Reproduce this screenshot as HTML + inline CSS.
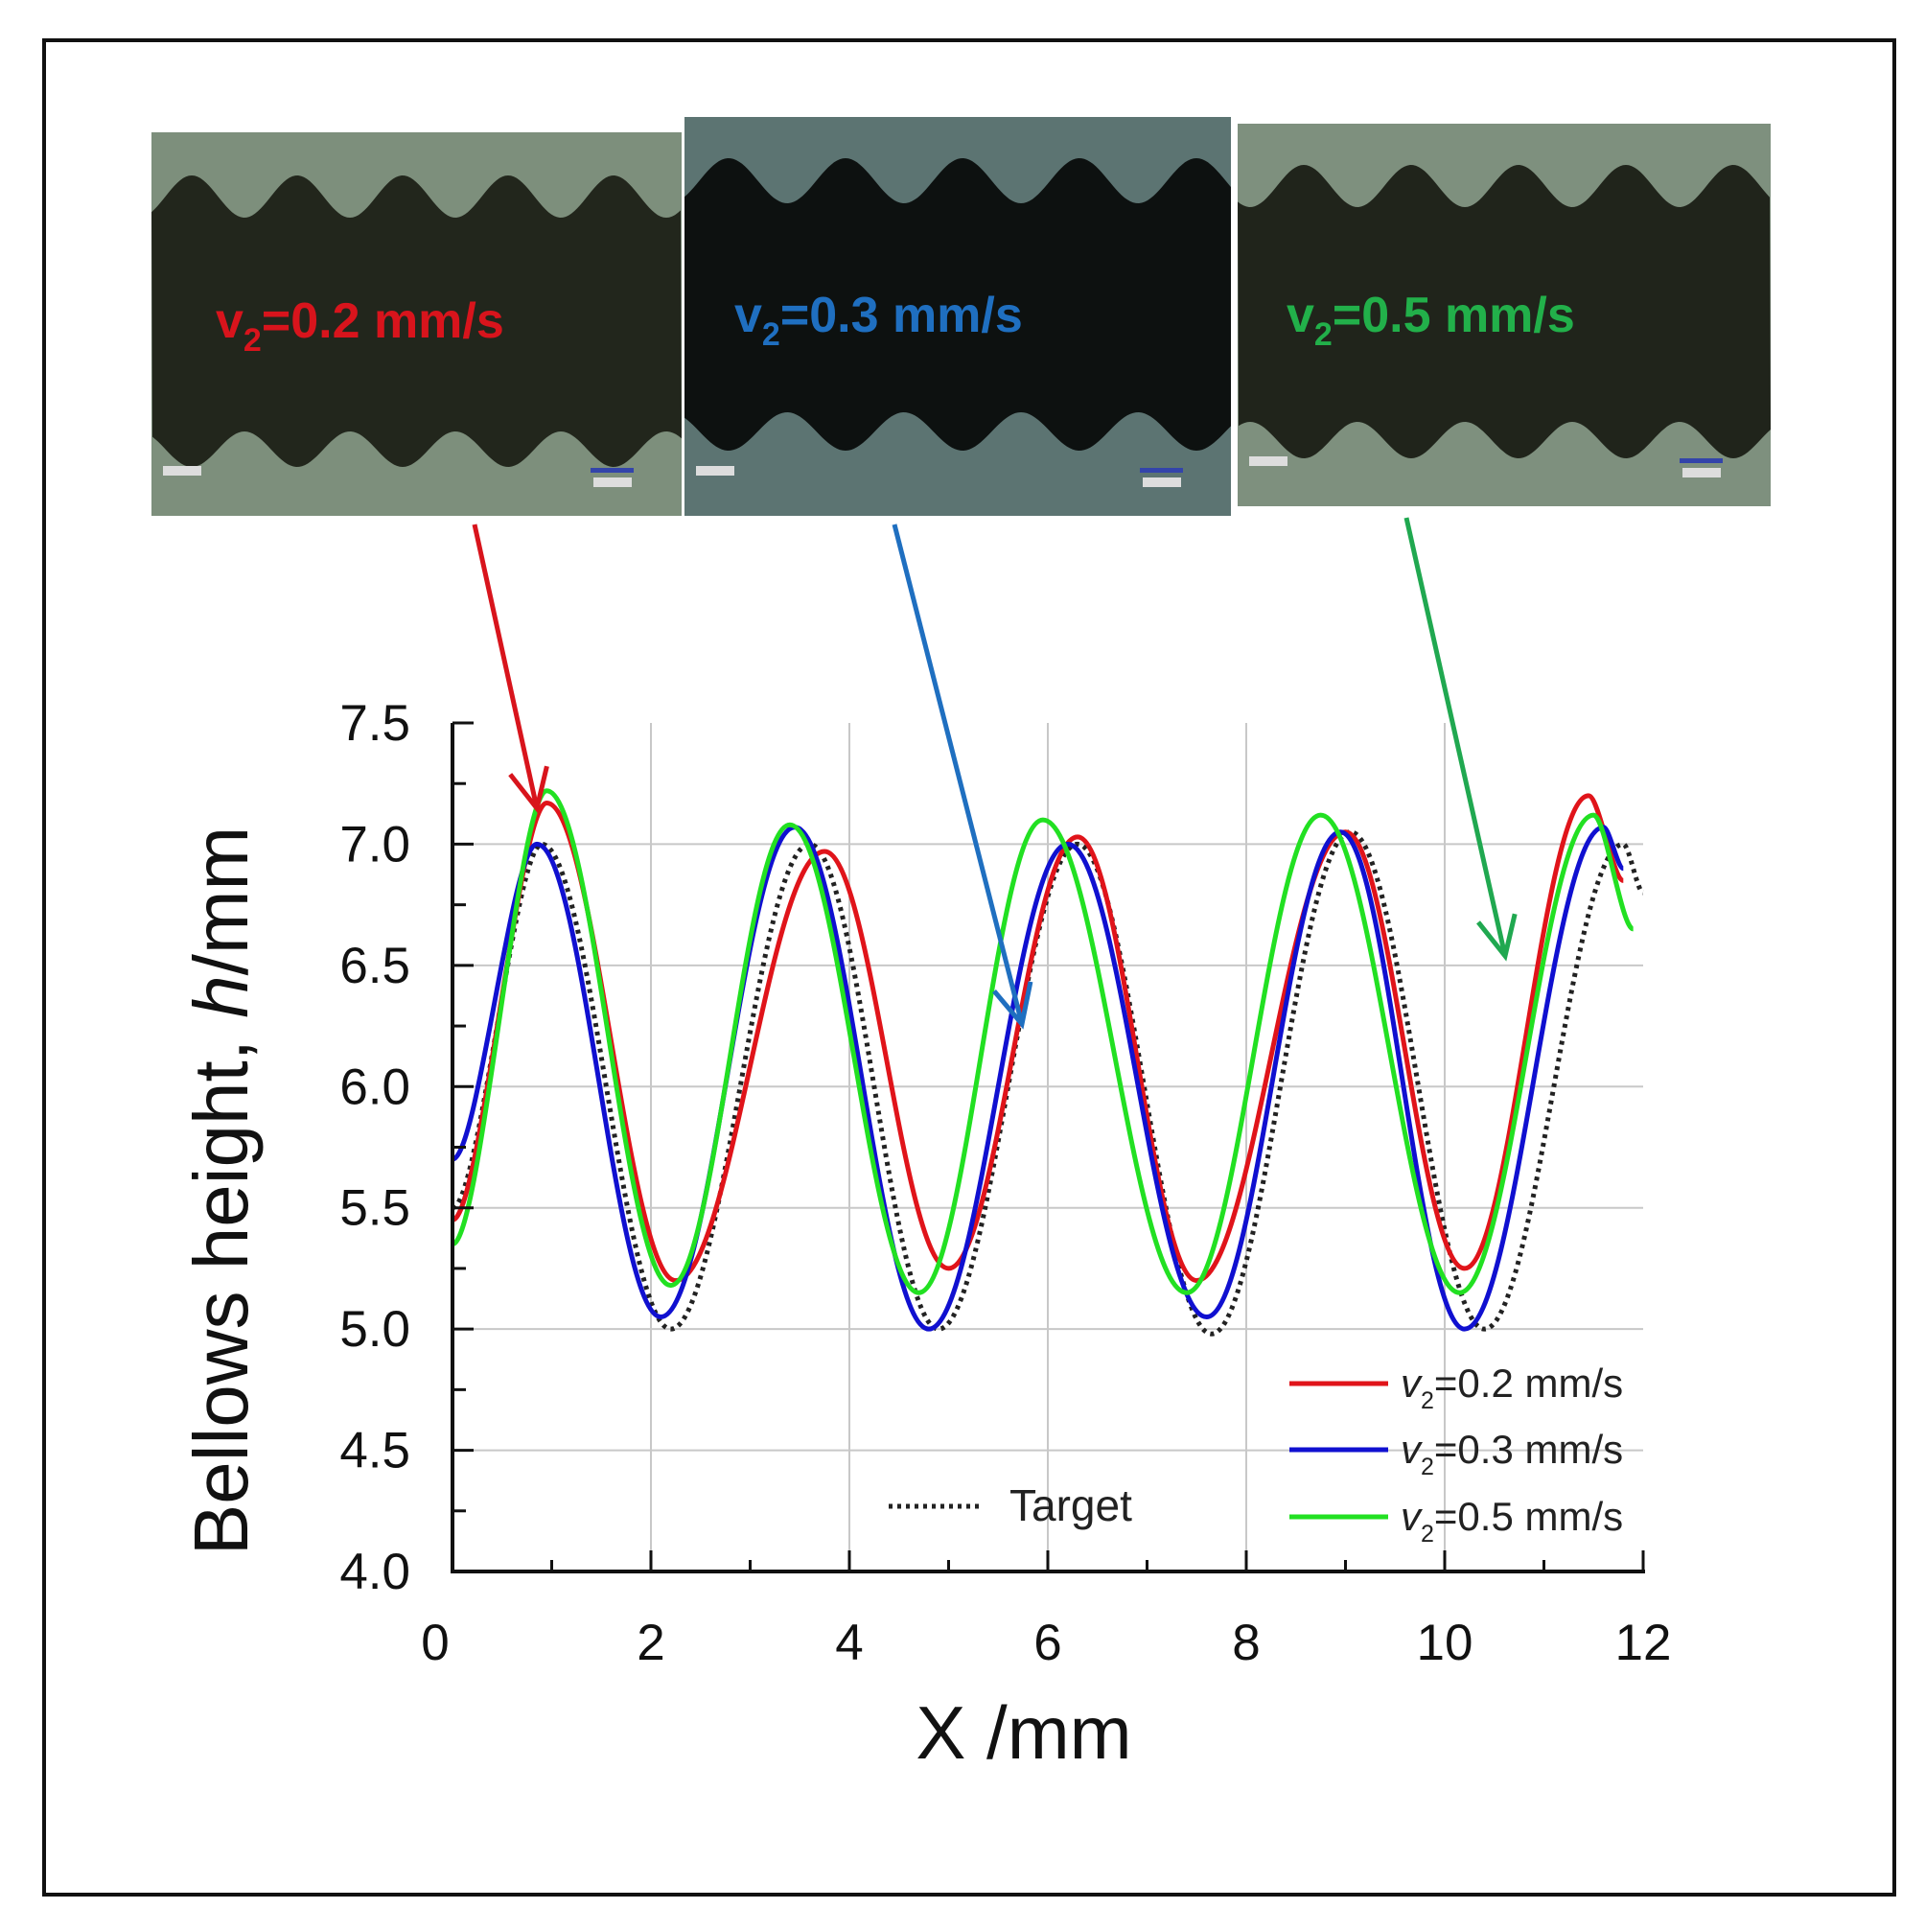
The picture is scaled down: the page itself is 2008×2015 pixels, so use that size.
<!DOCTYPE html>
<html><head><meta charset="utf-8"><style>
html,body{margin:0;padding:0;background:#fff;}
body{width:2008px;height:2015px;position:relative;overflow:hidden;font-family:"Liberation Sans",sans-serif;}
svg{position:absolute;left:0;top:0;}
</style></head><body>
<svg id="fig" width="2008" height="2015" viewBox="0 0 2008 2015" xmlns="http://www.w3.org/2000/svg">
<rect x="46" y="42" width="1930" height="1934" fill="#fff" stroke="#111" stroke-width="4"/>
<g id="photos"></g>
<g id="grid"></g>
<g id="series"></g>
<g id="axes"></g>
<g id="arrows"></g>
<text x="0" y="0" transform="translate(258,1242) rotate(-90)" text-anchor="middle" font-size="80" fill="#111">Bellows height, <tspan font-style="italic">h</tspan>/mm</text>
<text x="1068" y="1834" text-anchor="middle" font-size="78" fill="#111">X /mm</text>
<g id="legend"></g>
</svg>
<script>
// ---- data ----
const seriesNames = ["v2=0.2 mm/s","v2=0.3 mm/s","v2=0.5 mm/s","Target"];
const redX = [0,0.95,2.25,3.75,5.0,6.3,7.5,9.0,10.2,11.45,11.8];
const redY = [5.45,7.17,5.2,6.97,5.25,7.03,5.2,7.05,5.25,7.2,6.85];
const blueX = [0,0.85,2.1,3.45,4.8,6.2,7.6,8.95,10.2,11.6,11.8];
const blueY = [5.7,7.0,5.05,7.07,5.0,7.0,5.05,7.05,5.0,7.07,6.9];
const greenX = [0,0.95,2.2,3.4,4.7,5.95,7.4,8.75,10.15,11.5,11.9];
const greenY = [5.35,7.22,5.18,7.08,5.15,7.1,5.15,7.12,5.15,7.12,6.65];
const targetX = [0,0.9,2.2,3.6,4.9,6.3,7.65,9.05,10.4,11.8,12.0];
const targetY = [5.5,7.0,5.0,7.0,5.0,7.0,4.98,7.05,5.0,7.0,6.8];
const xTicks = [0,2,4,6,8,10,12];
const yTicks = [4.0,4.5,5.0,5.5,6.0,6.5,7.0,7.5];

const NS="http://www.w3.org/2000/svg";
const X0=472,X1=1714,Y0=1639,Y1=754;
const sx=v=>X0+(v-0)/(12-0)*(X1-X0);
const sy=v=>Y0-(v-4)/(7.5-4)*(Y0-Y1);
function mk(tag,attrs,parent){const e=document.createElementNS(NS,tag);for(const k in attrs)e.setAttribute(k,attrs[k]);parent.appendChild(e);return e;}

// photos
const photos=document.getElementById('photos');
const pdefs=[
 {x:158,y:138,w:553,h:400,bg:"#7d8f7c",body:"#22261c",label:"0.2",col:"#d8141c",tx:225,ty:352,top:183,topv:227,bot:487,botv:450,ph:200,per:110},
 {x:714,y:122,w:570,h:416,bg:"#5c7472",body:"#0d1110",label:"0.3",col:"#1f6fc0",tx:766,ty:346,top:165,topv:212,bot:470,botv:430,ph:760,per:122},
 {x:1291,y:129,w:556,h:399,bg:"#7e907e",body:"#20241b",label:"0.5",col:"#22b04a",tx:1342,ty:346,top:172,topv:216,bot:478,botv:440,ph:1360,per:112}
];
pdefs.forEach((p,i)=>{
 const g=mk('g',{},photos);
 
 
 mk('rect',{x:p.x,y:p.y,width:p.w,height:p.h,fill:p.bg},g);
 const pts=[];
 for(let xx=p.x;xx<=p.x+p.w;xx+=3){const c=Math.cos(2*Math.PI*(xx-p.ph)/p.per);pts.push([xx,(p.top+p.topv)/2-c*(p.topv-p.top)/2]);}
 let d='M'+pts.map(q=>q[0]+' '+q[1].toFixed(1)).join(' L');
 const pb=[];
 for(let xx=p.x+p.w;xx>=p.x;xx-=3){const c=Math.cos(2*Math.PI*(xx-p.ph)/p.per);pb.push([xx,(p.bot+p.botv)/2+c*(p.bot-p.botv)/2]);}
 d+=' L'+pb.map(q=>q[0]+' '+q[1].toFixed(1)).join(' L')+' Z';
 mk('path',{d:d,fill:p.body},g);
 mk('rect',{x:p.x+12,y:p.y+p.h-52,width:40,height:10,fill:"#ddd"},g);
 mk('rect',{x:p.x+p.w-95,y:p.y+p.h-50,width:45,height:5,fill:"#3344aa"},g);
 mk('rect',{x:p.x+p.w-92,y:p.y+p.h-40,width:40,height:10,fill:"#ddd"},g);
 const t=mk('text',{x:p.tx,y:p.ty,'font-size':52,'font-weight':'bold',fill:p.col},g);
 
 
 t.innerHTML='v<tspan font-size="34" dy="14">2</tspan><tspan dy="-14">=0.'+p.label.slice(2)+' mm/s</tspan>';
});

// grid
const grid=document.getElementById('grid');
yTicks.forEach(v=>{ if(v>4&&v<7.5){const l=mk('line',{x1:X0,x2:X1,y1:sy(v),y2:sy(v),stroke:"#c8c8c8","stroke-width":2},grid);}});
xTicks.forEach(v=>{ if(v>0&&v<12){const l=mk('line',{x1:sx(v),x2:sx(v),y1:Y1,y2:Y0,stroke:"#c8c8c8","stroke-width":2},grid);}});

// series
const ser=document.getElementById('series');
function pathOf(xs,ys){let d='M'+sx(xs[0])+' '+sy(ys[0]);for(let i=1;i<xs.length;i++){const a=sx(xs[i-1]),b=sx(xs[i]),dx=b-a;const k=(i===1||i===xs.length-1)?0.3:0.37;d+=' C'+(a+dx*k)+' '+sy(ys[i-1])+' '+(b-dx*k)+' '+sy(ys[i])+' '+b+' '+sy(ys[i]);}return d;}
const tp=mk('path',{d:pathOf(targetX,targetY),fill:"none",stroke:"#222","stroke-width":5,"stroke-dasharray":"4 5"},ser);


const rp=mk('path',{d:pathOf(redX,redY),fill:"none",stroke:"#e0141a","stroke-width":5},ser);


const bp=mk('path',{d:pathOf(blueX,blueY),fill:"none",stroke:"#1010d0","stroke-width":5},ser);


const gp=mk('path',{d:pathOf(greenX,greenY),fill:"none",stroke:"#22e022","stroke-width":5},ser);



// axes
const ax=document.getElementById('axes');
mk('line',{x1:X0,x2:X0,y1:Y1,y2:Y0+2,stroke:"#111","stroke-width":4},ax);
mk('line',{x1:X0-2,x2:X1+2,y1:Y0,y2:Y0,stroke:"#111","stroke-width":4},ax);
for(let v=4;v<=7.5001;v+=0.25){const major=Math.abs(v*2-Math.round(v*2))<1e-6;mk('line',{x1:X0,x2:X0+(major?22:14),y1:sy(v),y2:sy(v),stroke:"#111","stroke-width":3},ax);}
for(let v=0;v<=12;v+=1){const major=v%2===0;mk('line',{x1:sx(v),x2:sx(v),y1:Y0,y2:Y0-(major?22:12),stroke:"#111","stroke-width":3},ax);}
yTicks.forEach(v=>{const t=mk('text',{x:428,y:sy(v)+18,'text-anchor':'end','font-size':53,fill:"#111"},ax);t.textContent=v.toFixed(1);});
xTicks.forEach(v=>{const t=mk('text',{x:sx(v)-(v===0?18:0),y:1731,'text-anchor':'middle','font-size':53,fill:"#111"},ax);t.textContent=v;});

// arrows
const ar=document.getElementById('arrows');
[[495,547,560,843,"#d8141c"],[933,547,1066,1068,"#1f6fc0"],[1467,540,1570,997,"#20a850"]].forEach((a,i)=>{
 const g=mk('g',{},ar);
 
 
 mk('line',{x1:a[0],y1:a[1],x2:a[2],y2:a[3],stroke:a[4],"stroke-width":5},g);
 const ang=Math.atan2(a[3]-a[1],a[2]-a[0]);const L=45,s=0.45;
 const p1=[a[2]-L*Math.cos(ang-s),a[3]-L*Math.sin(ang-s)],p2=[a[2]-L*Math.cos(ang+s),a[3]-L*Math.sin(ang+s)];
 mk('polyline',{points:p1.join(',')+' '+a[2]+','+a[3]+' '+p2.join(','),fill:"none",stroke:a[4],"stroke-width":5},g);
});

// legend
const lg=document.getElementById('legend');
const legCols=["#e0141a","#1010d0","#22e022"];
const legY=[1443,1512,1582];
[0,1,2].forEach(i=>{
 const g=mk('g',{},lg);
 
 
 mk('line',{x1:1345,x2:1448,y1:legY[i],y2:legY[i],stroke:legCols[i],"stroke-width":5},g);
 const t=mk('text',{x:1461,y:legY[i]+14,'font-size':42,fill:"#222"},g);
 t.innerHTML='<tspan font-style="italic">v</tspan><tspan font-size="25" dy="12">2</tspan><tspan dy="-12">'+seriesNames[i].slice(2)+'</tspan>';
});
const gt=mk('g',{},lg);


mk('line',{x1:927,x2:1026,y1:1571,y2:1571,stroke:"#222","stroke-width":5,"stroke-dasharray":"4 5"},gt);
const tt=mk('text',{x:1053,y:1586,'font-size':46,fill:"#222"},gt);
tt.textContent=seriesNames[3];
</script>
</body></html>
